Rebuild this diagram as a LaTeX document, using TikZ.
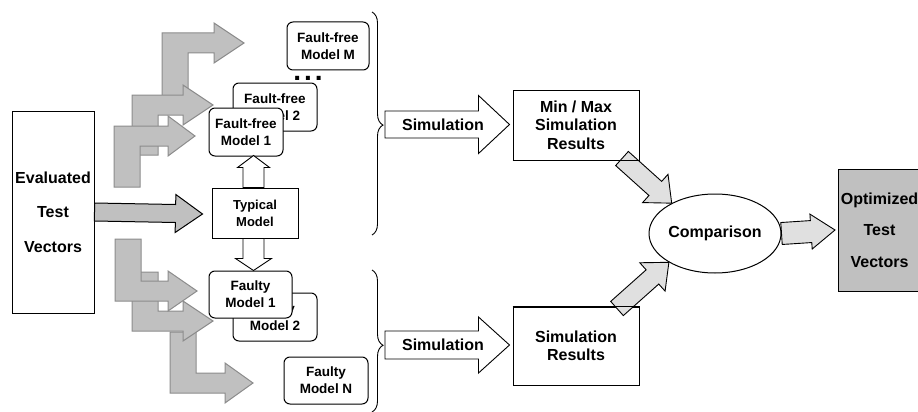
\documentclass[tikz,border=0pt]{standalone}
\usepackage{fontspec}
\setmainfont{Liberation Sans}
\usetikzlibrary{calc,decorations.pathreplacing,shapes.geometric}
\definecolor{bentgray}{HTML}{C0C0C0}
\definecolor{bentline}{HTML}{8C8C8C}
\definecolor{lightfill}{HTML}{E0E0E0}
\newcommand\blkarrow[6]{%
  \coordinate (bh) at ($#3!#6!#2$);
  \draw[#1] ($#2!#4!90:#3$) -- ($(bh)!#4!90:#3$) -- ($(bh)!#5!90:#3$) -- #3
    -- ($(bh)!#5!-90:#3$) -- ($(bh)!#4!-90:#3$) -- ($#2!#4!-90:#3$) -- cycle;}
\newcommand\bentup[5]{\draw[bent] (#1,#2) -- (#1,#3-10) -- (#4,#3-10) -- (#4,#3-20) -- (#5,#3)
  -- (#4,#3+20) -- (#4,#3+10) -- (#1+26,#3+10) -- (#1+26,#2) -- cycle;}
\newcommand\bentdown[5]{\draw[bent] (#1,#2) -- (#1,#3+10) -- (#4,#3+10) -- (#4,#3+20) -- (#5,#3)
  -- (#4,#3-20) -- (#4,#3-10) -- (#1+26,#3-10) -- (#1+26,#2) -- cycle;}
\tikzset{
  bent/.style={fill=bentgray, draw=bentline, line width=1pt, line join=miter},
  mainarrow/.style={fill=bentgray, draw=black, line width=1pt},
  lightarrow/.style={fill=lightfill, draw=black, line width=0.9pt},
  hollow/.style={fill=white, draw=black, line width=0.9pt},
  sqbox/.style={draw, fill=white, line width=1pt, align=center, inner sep=0pt,
    font=\fontsize{16}{18.5}\selectfont\bfseries},
  rbox/.style={draw, fill=white, rounded corners=6pt, line width=1pt, align=center,
    inner sep=0pt, minimum width=84pt, minimum height=48pt,
    font=\fontsize{13.5}{17}\selectfont\bfseries},
  label/.style={font=\fontsize{16}{18}\selectfont\bfseries, inner sep=0pt},
  bracebig/.style={decorate, line width=0.9pt}
}
\begin{document}
\begin{tikzpicture}[x=1pt,y=-1pt]
\useasboundingbox (0,0) rectangle (918,412);
% main nodes (positions)
\node[sqbox, minimum width=82pt, minimum height=202pt,
  font=\fontsize{16}{34.5}\selectfont\bfseries] (eval) at (53,212) {Evaluated\\Test\\Vectors};
\node[sqbox, minimum width=86pt, minimum height=50pt,
  font=\fontsize{13}{17}\selectfont\bfseries] (typ) at (255,213) {Typical\\Model};
% upper bent arrows
\bentup{162}{105}{43}{214}{244}
\bentup{132}{155}{105}{183}{213}
\bentup{114}{187}{136}{168}{195}
% lower bent arrows
\bentdown{170}{332}{383}{225}{253}
\bentdown{132}{272}{321}{183}{213}
\bentdown{115}{239}{291}{168}{197}
% fault-free models
\node[rbox, minimum width=82pt] (ffM) at (328,46) {Fault-free\\Model M};
\node[rbox] (ff2) at (275,107) {Fault-free\\Model 2};
\node[rbox, minimum width=74pt] (ff1) at (246,132) {Fault-free\\Model 1};
\node[anchor=base, inner sep=0pt, font=\fontsize{28}{28}\selectfont\bfseries] (dots) at (308,81) {.\hspace{3pt}.\hspace{3pt}.};
% faulty models
\node[rbox, minimum height=47pt] (fyN) at (326,380.5) {Faulty\\Model N};
\node[rbox] (fy2) at (275,317) {Faulty\\Model 2};
\node[rbox, minimum width=83pt, minimum height=47pt] (fy1) at (250.5,294.5) {Faulty\\Model 1};
% main arrow
\coordinate (mainS) at (eval.east);
\coordinate (mainE) at ($(typ.west)+(-9,1)$);
\blkarrow{mainarrow}{(mainS)}{(mainE)}{9pt}{19pt}{27pt}
% hollow vertical arrows
\coordinate (upS) at ($(typ.north)+(-1.5,0)$);
\coordinate (upE) at ($(typ.north)+(-1.5,-32)$);
\blkarrow{hollow}{(upS)}{(upE)}{10.5pt}{16pt}{12pt}
\coordinate (dnS) at ($(typ.south)+(-1.5,0)$);
\coordinate (dnE) at ($(typ.south |- fy1.north)+(-1.5,0)$);
\blkarrow{hollow}{(dnS)}{(dnE)}{10.5pt}{18pt}{12pt}
% braces
\draw[bracebig, decoration={brace, amplitude=11pt, aspect=0.507}] (372,12) -- (372,235);
\draw[bracebig, decoration={brace, amplitude=11pt, aspect=0.53}] (372,270) -- (372,412);
\coordinate (br1) at (385,124.5);
\coordinate (br2) at (385,345);
% result boxes
\node[sqbox, minimum width=126pt, minimum height=70pt] (mm) at (576,125) {Min / Max\\Simulation\\Results};
\node[sqbox, minimum width=126pt, minimum height=78pt,
  font=\fontsize{16}{17.5}\selectfont\bfseries] (sr) at (576,346) {Simulation\\Results};
% simulation arrows
\coordinate (s1E) at ($(mm.west |- br1)+(-3,0)$);
\blkarrow{hollow}{(br1)}{(s1E)}{13.5pt}{29pt}{31pt}
\node[label] (sim1) at (443,124.5) {Simulation};
\coordinate (s2E) at ($(sr.west |- br2)+(-3,0)$);
\blkarrow{hollow}{(br2)}{(s2E)}{14pt}{28pt}{31pt}
\node[label] (sim2) at (443,345) {Simulation};
% comparison
\node[draw, ellipse, line width=1pt, minimum width=118pt, minimum height=79pt, inner sep=0pt,
  font=\fontsize{16}{18}\selectfont\bfseries] (cmp) at (715,233.5) {Comparison};
\node[sqbox, fill=bentgray, minimum width=82pt, minimum height=122pt, anchor=west,
  font=\fontsize{16}{31.5}\selectfont\bfseries] (opt) at (838,230) {Optimized\\Test\\Vectors};
% diagonal arrows
\coordinate (d1S) at ($(mm.south)+(46,-2)$);
\blkarrow{lightarrow}{(d1S)}{(cmp.145)}{9.5pt}{19pt}{22pt}
\coordinate (d2S) at ($(sr.north)+(41,2)$);
\blkarrow{lightarrow}{(d2S)}{(cmp.212)}{9.5pt}{19pt}{22pt}
\draw[line width=1pt] (mm.south west) -- (mm.south east);
\draw[line width=1pt] (sr.north west) -- (sr.north east);
% comparison -> optimized
\coordinate (oE) at ($(opt.west)+(-3,0)$);
\blkarrow{lightarrow}{(cmp.east)}{(oE)}{11pt}{17.5pt}{24pt}
\end{tikzpicture}
\end{document}
